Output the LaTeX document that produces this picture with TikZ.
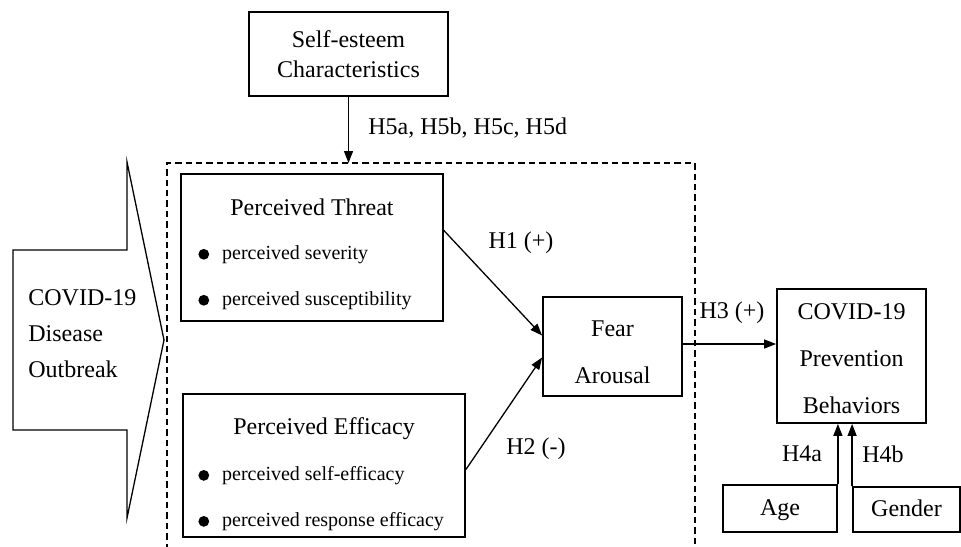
\documentclass[tikz,border=0pt]{standalone}
\usepackage{fontspec}
\setmainfont{Liberation Serif}
\usetikzlibrary{positioning,arrows.meta}

\newcommand{\dotmark}{\tikz[baseline=-0.6ex]\fill circle (2.7pt);\hspace{6.5pt}}

\begin{document}
\begin{tikzpicture}[x=0.5pt, y=-0.5pt,
                    box/.style={draw, line width=0.9pt, inner sep=0pt, font=\fontsize{12}{15}\selectfont, align=center},
                    title/.style={font=\fontsize{12}{14}\selectfont, inner sep=0pt, text height=8.2pt, text depth=0pt},
                    lines/.style={inner sep=0pt, align=center, font=\fontsize{12}{23.5}\selectfont},
                    item/.style={font=\fontsize{10}{12}\selectfont, inner sep=0pt, anchor=west},
                    hyp/.style={font=\fontsize{12}{14}\selectfont, inner sep=0pt},
                    link/.style={line width=0.65pt, -{Triangle[length=6pt, width=4.5pt]}},
                ]
                \useasboundingbox (0,0) rectangle (961,546);
                %Outbreak arrow and frame
                \draw[line width=0.65pt] (13,250) -- (127,250) -- (127,162) -- (164,340)
                    -- (127,518) -- (127,430) -- (13,430) -- cycle;
                \node[title, anchor=west, align=left, text height=, text depth=, font=\fontsize{12}{18}\selectfont] (outbreak) at (28,334) {COVID-19\\Disease\\Outbreak};
                \draw[line width=0.65pt, dash pattern=on 3.2pt off 2pt] (167,550) -- (167,163) -- (695,163) -- (695,550);
                \coordinate (frametop) at (351,163);

                %Nodes
                \node[box, minimum width=99.5pt, minimum height=42pt] (selfesteem) at (348.5,54) {Self-esteem\\Characteristics};
                \node[box, minimum width=131pt, minimum height=73.5pt] (threat) at (312,247.5) {};
                \node[title] (threattitle) at (312,207) {Perceived Threat};
                \node[item] (severity) at (198,255) {\dotmark perceived severity};
                \node[item] (suscept) at (198,301) {\dotmark perceived susceptibility};
                \node[box, minimum width=141pt, minimum height=71.5pt] (efficacy) at (324,465.5) {};
                \node[title] (efficacytitle) at (324,426) {Perceived Efficacy};
                \node[item] (selfeff) at (198,476) {\dotmark perceived self-efficacy};
                \node[item] (respeff) at (198,522) {\dotmark perceived response efficacy};
                \node[box, minimum width=69.5pt, minimum height=49.5pt] (fear) at (612.5,346.5) {};
                \node[lines, yshift=-2.8pt] (feartext) at (fear) {Fear\\Arousal};
                \node[box, minimum width=74.5pt, minimum height=67pt] (behavior) at (851.5,356) {};
                \node[lines, yshift=-1.2pt] (behaviortext) at (behavior) {COVID-19\\Prevention\\Behaviors};
                \node[box, minimum width=57pt, minimum height=23.5pt, text height=9pt, text depth=2pt] (age) at (780,508.5) {Age};
                \node[box, minimum width=53.5pt, minimum height=22.5pt, text height=9pt, text depth=2pt] (gender) at (906.5,509.5) {Gender};

                %Links
                \draw[link] (selfesteem.south) -- (selfesteem.south |- frametop);
                \draw[link] ([yshift=8.5pt]threat.east) -- ([yshift=5.5pt]fear.west);
                \draw[link] ([yshift=-2pt]efficacy.east) -- ([yshift=-5.5pt]fear.west);
                \draw[link] ([yshift=1.25pt]fear.east) -- ([yshift=1.25pt]fear.east -| behavior.west);
                \draw[link] (age.north east) -- (age.north east |- behavior.south);
                \draw[link] (gender.north west) -- (gender.north west |- behavior.south);

                %Labels
                \node[hyp, anchor=west] (h5) at (368,128) {H5a, H5b, H5c, H5d};
                \node[hyp] (h1) at (521,243) {H1 (+)};
                \node[hyp] (h2) at (536,449) {H2 (-)};
                \node[hyp] (h3) at (732,313) {H3 (+)};
                \node[hyp] (h4a) at (802,454) {H4a};
                \node[hyp] (h4b) at (883,454) {H4b};
            \end{tikzpicture}
\end{document}
